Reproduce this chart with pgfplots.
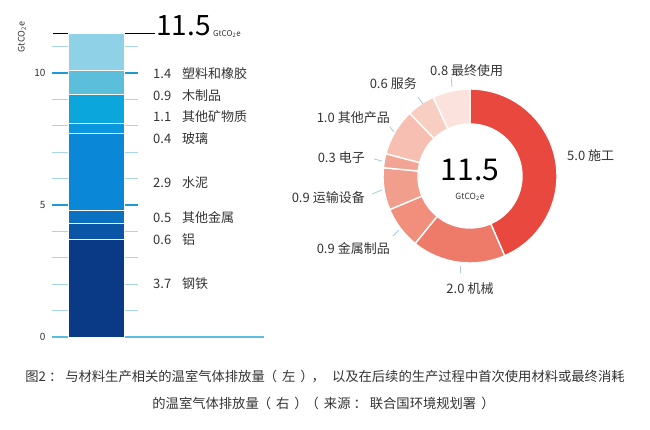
\documentclass[border=0pt]{standalone}
\usepackage{pgfplots}
\pgfplotsset{compat=1.18}
\usepackage{pgfplotstable}
\usepackage{fontspec}
\setmainfont{Noto Sans CJK SC}

% bar segments, bottom to top
\definecolor{b1}{HTML}{0A3A86}
\definecolor{b2}{HTML}{0B55A6}
\definecolor{b3}{HTML}{0A72C0}
\definecolor{b4}{HTML}{0B87D8}
\definecolor{b5}{HTML}{0A97DE}
\definecolor{b6}{HTML}{0AA6DC}
\definecolor{b7}{HTML}{5BBFDC}
\definecolor{b8}{HTML}{8FD1E6}
% donut slices, clockwise from the top
\definecolor{d0}{HTML}{E9483E}
\definecolor{d1}{HTML}{EE7A69}
\definecolor{d2}{HTML}{F18E7C}
\definecolor{d3}{HTML}{F29E8C}
\definecolor{d4}{HTML}{F3A595}
\definecolor{d5}{HTML}{F6BFB2}
\definecolor{d6}{HTML}{F8CDC2}
\definecolor{d7}{HTML}{FBE2DC}
\definecolor{gmaj}{HTML}{1E9AD8}
\definecolor{gmin}{HTML}{A9D6E6}
\definecolor{gbot}{HTML}{5CBDE3}
\definecolor{lead}{HTML}{A9CBDC}
\definecolor{txt}{HTML}{333333}

\pgfplotstableread{
v
5.0
2.0
0.9
0.9
0.3
1.0
0.6
0.8
}\donutdata

\tikzset{
  lab/.style={font=\fontsize{13}{13}\selectfont, text=txt, inner sep=0pt},
  captxt/.style={font=\fontsize{13.3}{13.3}\selectfont, text=txt, inner sep=0pt},
  leader/.style={lead, line width=0.8pt},
}
% full-width punctuation, spaced as in the original caption
\newcommand\popen{\kern-1pt（\kern5pt}
\newcommand\pclose{\kern5pt）\kern-1pt}
\newcommand\pcomma{\kern-1pt，\kern7pt}
\newcommand\pcolon{\kern3pt：\kern3pt}

\begin{document}
\begin{tikzpicture}
\useasboundingbox (0pt,0pt) rectangle (650pt,-429pt);

% start and end angles of the slices
\gdef\dcum{0}%
\foreach \i in {0,...,7}{%
  \pgfplotstablegetelem{\i}{v}\of\donutdata
  \pgfmathsetmacro\dA{90-360*\dcum/11.5}%
  \pgfmathsetmacro\dS{\dcum+\pgfplotsretval}%
  \pgfmathsetmacro\dB{90-360*\dS/11.5}%
  \expandafter\xdef\csname sa\i\endcsname{\dA}%
  \expandafter\xdef\csname sb\i\endcsname{\dB}%
  \xdef\dcum{\dS}%
}

% left: stacked column
\begin{axis}[
    at={(52pt,-337pt)}, anchor=south west,
    scale only axis, width=86pt, height=316.8pt,
    xmin=0, xmax=86, ymin=0, ymax=12,
    ybar stacked, bar width=56pt,
    xtick=\empty,
    ytick={0,5,10},
    minor ytick={1,2,3,4,6,7,8,9,11},
    ymajorgrids, yminorgrids,
    major grid style={gmaj, line width=1.3pt},
    minor grid style={gmin, line width=0.9pt},
    major tick length=0, minor tick length=0,
    axis line style={draw=none},
    clip=false,
    yticklabel style={font=\fontsize{10}{10}\selectfont, text=txt, xshift=-3pt},
    /pgf/number format/assume math mode=true,
]
\addplot[fill=b1, draw=white, line width=1pt] coordinates {(44,3.7)};
\addplot[fill=b2, draw=white, line width=1pt] coordinates {(44,0.6)};
\addplot[fill=b3, draw=white, line width=1pt] coordinates {(44,0.5)};
\addplot[fill=b4, draw=white, line width=1pt] coordinates {(44,2.9)};
\addplot[fill=b5, draw=white, line width=1pt] coordinates {(44,0.4)};
\addplot[fill=b6, draw=white, line width=1pt] coordinates {(44,1.1)};
\addplot[fill=b7, draw=white, line width=1pt] coordinates {(44,0.9)};
\addplot[fill=b8, draw=white, line width=1pt] coordinates {(44,1.4)};
\draw[gbot, line width=1.3pt] (axis cs:0,0) -- (axis cs:212,0);
\draw[black, line width=1.6pt] (axis cs:1,11.5) -- (axis cs:103,11.5);
\end{axis}

% right: donut
\begin{axis}[
    at={(470pt,-176pt)}, anchor=center,
    scale only axis, width=200pt, height=200pt,
    xmin=-100, xmax=100, ymin=-100, ymax=100,
    hide axis, clip=false,
]
\pgfplotsinvokeforeach{0,...,7}{
  \fill[d#1, draw=white, line width=1.4pt]
    (axis cs:{87*cos(\csname sa#1\endcsname)},{87*sin(\csname sa#1\endcsname)})
    arc[start angle=\csname sa#1\endcsname, end angle=\csname sb#1\endcsname, radius=87pt]
    -- (axis cs:{52*cos(\csname sb#1\endcsname)},{52*sin(\csname sb#1\endcsname)})
    arc[start angle=\csname sb#1\endcsname, end angle=\csname sa#1\endcsname, radius=52pt]
    -- cycle;
}
\end{axis}

% left labels
\node[rotate=90, font=\fontsize{9}{9}\selectfont, text=txt] at (22pt,-37pt) {GtCO\textsubscript{2}e};
\node[anchor=base west, font=\fontsize{28}{28}\selectfont, text=black, inner sep=0pt] at (156pt,-35pt) {11.5};
\node[anchor=base west, font=\fontsize{8}{8}\selectfont, text=txt, inner sep=0pt] at (213pt,-36pt) {GtCO\textsubscript{2}e};

\node[lab, anchor=base west] at (153pt,-78pt) {1.4};
\node[lab, anchor=base west] at (182pt,-78pt) {塑料和橡胶};
\node[lab, anchor=base west] at (153pt,-100pt) {0.9};
\node[lab, anchor=base west] at (182pt,-100pt) {木制品};
\node[lab, anchor=base west] at (153pt,-121pt) {1.1};
\node[lab, anchor=base west] at (182pt,-121pt) {其他矿物质};
\node[lab, anchor=base west] at (153pt,-143pt) {0.4};
\node[lab, anchor=base west] at (182pt,-143pt) {玻璃};
\node[lab, anchor=base west] at (153pt,-187pt) {2.9};
\node[lab, anchor=base west] at (182pt,-187pt) {水泥};
\node[lab, anchor=base west] at (153pt,-222pt) {0.5};
\node[lab, anchor=base west] at (182pt,-222pt) {其他金属};
\node[lab, anchor=base west] at (153pt,-244pt) {0.6};
\node[lab, anchor=base west] at (182pt,-244pt) {铝};
\node[lab, anchor=base west] at (153pt,-288pt) {3.7};
\node[lab, anchor=base west] at (182pt,-288pt) {钢铁};

% donut labels
\node[anchor=base, font=\fontsize{30}{30}\selectfont, text=black, inner sep=0pt] at (470pt,-180pt) {11.5};
\node[font=\fontsize{8.5}{8.5}\selectfont, text=txt, inner sep=0pt] at (470pt,-197pt) {GtCO\textsubscript{2}e};

\node[lab, anchor=base west] at (430pt,-75pt) {0.8\hspace{3pt}最终使用};
\node[lab, anchor=base east] at (417pt,-88pt) {0.6\hspace{3pt}服务};
\node[lab, anchor=base east] at (390pt,-122pt) {1.0\hspace{3pt}其他产品};
\node[lab, anchor=base east] at (365pt,-162pt) {0.3\hspace{3pt}电子};
\node[lab, anchor=base east] at (365pt,-202pt) {0.9\hspace{3pt}运输设备};
\node[lab, anchor=base east] at (390pt,-253pt) {0.9\hspace{3pt}金属制品};
\node[lab, anchor=base] at (470pt,-293pt) {2.0\hspace{3pt}机械};
\node[lab, anchor=base west] at (567pt,-160pt) {5.0\hspace{3pt}施工};

\draw[leader] (451pt,-77pt) -- (452pt,-87pt);
\draw[leader] (418pt,-97pt) -- (423pt,-104pt);
\draw[leader] (390pt,-127pt) -- (394pt,-132pt);
\draw[leader] (374pt,-159pt) -- (382pt,-161pt);
\draw[leader] (372pt,-194pt) -- (382pt,-190pt);
\draw[leader] (393pt,-236pt) -- (399pt,-230pt);
\draw[leader] (460pt,-266pt) -- (460pt,-273pt);

% caption
\node[captxt] at (325pt,-377pt) {图2\pcolon 与材料生产相关的温室气体排放量\popen 左\pclose\pcomma 以及在后续的生产过程中首次使用材料或最终消耗};
\node[captxt] at (323pt,-403pt) {的温室气体排放量\popen 右\pclose\popen 来源\pcolon 联合国环境规划署\pclose};
\end{tikzpicture}
\end{document}
